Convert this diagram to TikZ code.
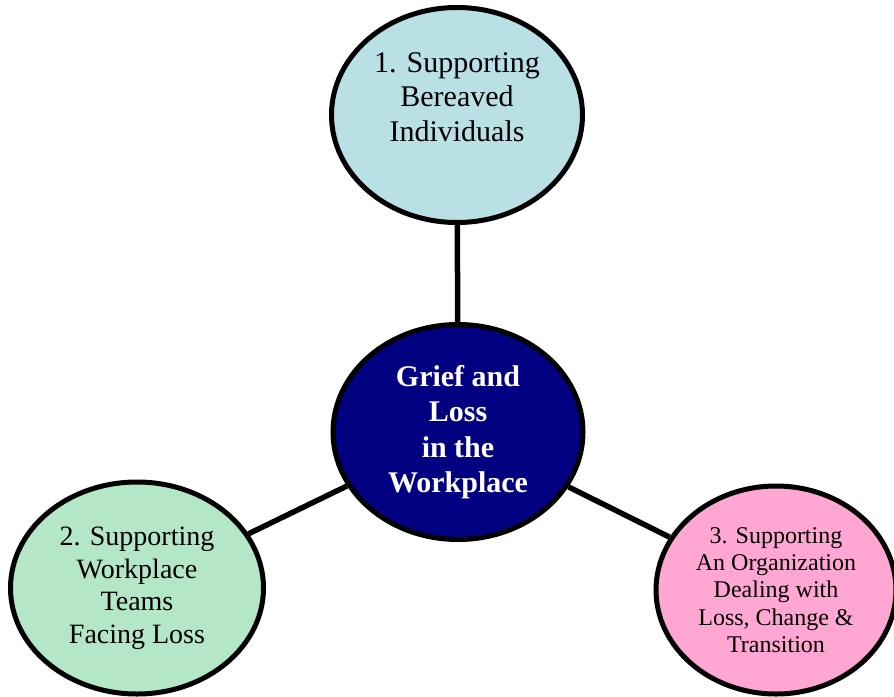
\documentclass[tikz,border=0pt]{standalone}
\usepackage{fontspec}
\setmainfont{Liberation Serif}
\usetikzlibrary{shapes.geometric}

\definecolor{topblue}{RGB}{185,224,228}
\definecolor{mint}{RGB}{180,230,200}
\definecolor{pink}{RGB}{255,166,210}
\definecolor{navy}{RGB}{0,0,128}

\begin{document}
\begin{tikzpicture}[x=1pt,y=-1pt]

      \useasboundingbox (0,0) rectangle (894,696);

      \begin{scope}[every node/.style={ellipse,draw,line width=5pt,inner sep=0pt,align=center}]
        \node[fill=navy,text=white,minimum width=250,minimum height=215,
              font=\fontsize{30}{35.5}\selectfont\bfseries] (c) at (458,432)
              {Grief and\\Loss\\in the\\Workplace};
        \node[fill=topblue,minimum width=251,minimum height=215] (1) at (457,115) {};
        \node[fill=mint,minimum width=253,minimum height=212,
              font=\fontsize{28}{32.5}\selectfont] (2) at (137,588)
              {2. Supporting\\Workplace\\Teams\\Facing Loss};
        \node[fill=pink,minimum width=240,minimum height=208,
              font=\fontsize{24}{27.3}\selectfont] (3) at (776,590)
              {3. Supporting\\An Organization\\Dealing with\\Loss, Change \&\\Transition};
      \end{scope}

      \node[align=center,font=\fontsize{30}{34.5}\selectfont] (1t) at ([yshift=18pt]1.center)
            {1. Supporting\\Bereaved\\Individuals};

      \begin{scope}[every edge/.style={draw,line width=5.5pt}]
        \path (1) edge (c);
        \path (2) edge (c);
        \path (3) edge (c);
      \end{scope}

    \end{tikzpicture}
\end{document}
